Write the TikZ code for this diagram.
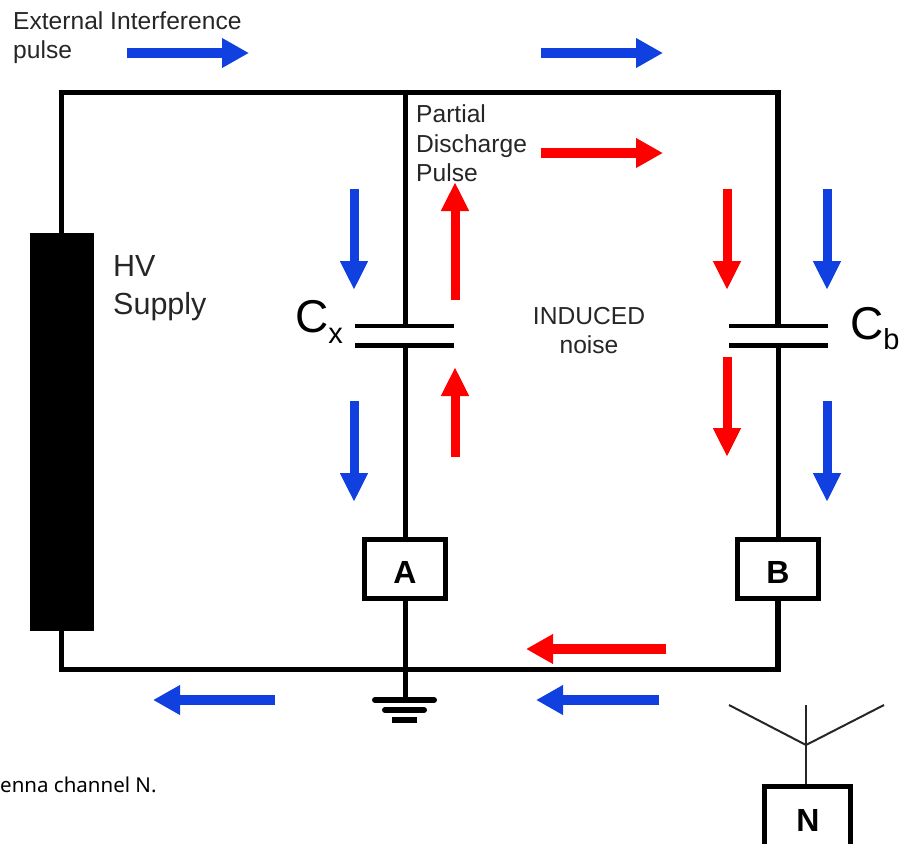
\documentclass[tikz,border=0pt]{standalone}
\usepackage{fontspec}
\setmainfont{Liberation Sans}
\newfontfamily\notefont{Noto Sans}
\usetikzlibrary{arrows.meta, positioning}
\definecolor{pulseBlue}{HTML}{1040E0}
\tikzstyle{wire}=[line width=5.5pt, line join=miter]
\tikzstyle{thinWire}=[line width=5pt]
\tikzstyle{plate}=[line width=4.5pt]
\tikzstyle{meter}=[draw, line width=5pt, fill=white, minimum width=81pt, minimum height=59pt, inner sep=0pt, text height=28pt, font=\fontsize{32}{32}\selectfont\bfseries]
\tikzstyle{label}=[anchor=base west, inner sep=0pt, font=\fontsize{24.6}{24.6}\selectfont, text=black!85]
\tikzstyle{pulse}=[line width=9pt, -{Triangle[width=26pt, length=29pt]}]
\tikzstyle{across}=[line width=10pt, -{Triangle[width=28pt, length=27pt]}]
\tikzstyle{blueP}=[pulse, pulseBlue]
\tikzstyle{redP}=[pulse, red]
\tikzstyle{blueA}=[across, pulseBlue]
\tikzstyle{redA}=[across, red]
\tikzstyle{aerial}=[line width=2pt, black!85]

\begin{document}
\begin{tikzpicture}[x=1pt, y=-1pt]
    \clip (0, 0) rectangle (907, 843);
    \useasboundingbox (0, 0) rectangle (907, 843);

    % frame
    \coordinate (tl) at (61.5, 92.5);
    \coordinate (tm) at (405, 92.5);
    \coordinate (tr) at (778, 92.5);
    \coordinate (bl) at (61.5, 669.5);
    \coordinate (bm) at (405, 669.5);
    \coordinate (br) at (778, 669.5);

    \node (hv)[draw, fill=black, minimum width=63pt, minimum height=397pt, inner sep=0pt] at (61.5, 431.5) {};
    \node (mA)[meter] at (405, 569) {A};
    \node (mB)[meter] at (778, 569) {B};
    \node (mN)[meter, minimum width=86pt, minimum height=84pt] at (807.5, 828.5) {};
    \node (mNtext)[inner sep=0pt, font=\fontsize{32}{32}\selectfont\bfseries] at (808, 820) {N};

    % capacitors
    \coordinate (cx1) at (405, 326);
    \coordinate (cx2) at (405, 345.5);
    \coordinate (cb1) at (778, 326);
    \coordinate (cb2) at (778, 345.5);
    \coordinate (cx1l) at (355, 326);
    \coordinate (cx1r) at (454, 326);
    \coordinate (cx2l) at (355, 345.5);
    \coordinate (cx2r) at (454, 345.5);
    \coordinate (cb1l) at (729, 326);
    \coordinate (cb1r) at (828, 326);
    \coordinate (cb2l) at (729, 345.5);
    \coordinate (cb2r) at (828, 345.5);
    \draw[plate] (cx1l) -- (cx1r);
    \draw[plate] (cx2l) -- (cx2r);
    \draw[plate] (cb1l) -- (cb1r);
    \draw[plate] (cb2l) -- (cb2r);

    \draw[wire] (hv.north -| tl) -- (tl) -- (tr) -- (cb1);
    \draw[wire] (hv.south -| bl) -- (bl) -- (br) -- (mB.south -| br);
    \draw[thinWire] (tm) -- (cx1);
    \draw[thinWire] (cx2) -- (mA.north);
    \draw[thinWire] (mA.south) -- (bm);
    \draw[thinWire] (cb2) -- (mB.north);

    % ground
    \coordinate (g1) at (405, 700);
    \coordinate (g1l) at (375, 700);
    \coordinate (g1r) at (434, 700);
    \coordinate (g2l) at (385, 710);
    \coordinate (g2r) at (424, 710);
    \coordinate (g3l) at (392, 720);
    \coordinate (g3r) at (417, 720);
    \draw[thinWire] (bm) -- (g1);
    \draw[line width=6pt, line cap=round] (g1l) -- (g1r);
    \draw[line width=6pt, line cap=round] (g2l) -- (g2r);
    \draw[line width=5.5pt] (g3l) -- (g3r);

    % antenna
    \coordinate (a0) at (806, 745);
    \coordinate (a1) at (729, 705);
    \coordinate (a2) at (806, 705);
    \coordinate (a3) at (884, 705);
    \draw[aerial] (a1) -- (a0);
    \draw[aerial] (a2) -- (a0);
    \draw[aerial] (a3) -- (a0);
    \draw[aerial] (a0) -- (a0 |- mN.north);

    % blue pulses
    \coordinate (p1s) at (127, 53);
    \coordinate (p1e) at (249, 53);
    \coordinate (p2s) at (541, 53);
    \coordinate (p2e) at (663, 53);
    \coordinate (p3s) at (354, 189);
    \coordinate (p3e) at (354, 290);
    \coordinate (p4s) at (354, 401);
    \coordinate (p4e) at (354, 502);
    \coordinate (p5s) at (827, 189);
    \coordinate (p5e) at (827, 290);
    \coordinate (p6s) at (827, 401);
    \coordinate (p6e) at (827, 502);
    \coordinate (p7s) at (275, 700);
    \coordinate (p7e) at (153, 700);
    \coordinate (p8s) at (659, 700);
    \coordinate (p8e) at (536, 700);
    \draw[blueA] (p1s) -- (p1e);
    \draw[blueA] (p2s) -- (p2e);
    \draw[blueP] (p3s) -- (p3e);
    \draw[blueP] (p4s) -- (p4e);
    \draw[blueP] (p5s) -- (p5e);
    \draw[blueP] (p6s) -- (p6e);
    \draw[blueA] (p7s) -- (p7e);
    \draw[blueA] (p8s) -- (p8e);

    % red pulses
    \coordinate (r1s) at (541, 153);
    \coordinate (r1e) at (663, 153);
    \coordinate (r2s) at (455, 300);
    \coordinate (r2e) at (455, 182);
    \coordinate (r3s) at (455, 457);
    \coordinate (r3e) at (455, 367);
    \coordinate (r4s) at (727, 189);
    \coordinate (r4e) at (727, 290);
    \coordinate (r5s) at (727, 357);
    \coordinate (r5e) at (727, 457);
    \coordinate (r6s) at (666, 649);
    \coordinate (r6e) at (526, 649);
    \draw[redA] (r1s) -- (r1e);
    \draw[redP] (r2s) -- (r2e);
    \draw[redP] (r3s) -- (r3e);
    \draw[redP] (r4s) -- (r4e);
    \draw[redP] (r5s) -- (r5e);
    \draw[redA] (r6s) -- (r6e);

    % labels
    \node (ext1)[label] at (13, 30) {External Interference};
    \node (ext2)[label] at (13, 59) {pulse};
    \node (pd1)[label] at (416, 122) {Partial};
    \node (pd2)[label] at (416, 152) {Discharge};
    \node (pd3)[label] at (416, 181) {Pulse};
    \node (hv1)[label, font=\fontsize{30.5}{30.5}\selectfont] at (113, 276) {HV};
    \node (hv2)[label, font=\fontsize{30.5}{30.5}\selectfont] at (113, 314) {Supply};
    \node (cx)[label, font=\fontsize{46}{46}\selectfont, text=black] at (295, 332) {C\raisebox{-11pt}{\fontsize{29}{29}\selectfont x}};
    \node (cb)[label, font=\fontsize{46}{46}\selectfont, text=black] at (850, 339.5) {C\raisebox{-9.5pt}{\fontsize{29}{29}\selectfont b}};
    \node (ind1)[label, anchor=base] at (589, 324) {INDUCED};
    \node (ind2)[label, anchor=base] at (589, 353) {noise};
    \node (note)[label, text=black, font=\notefont\fontsize{20.5}{20.5}\selectfont] at (0, 792) {enna channel N.};
\end{tikzpicture}
\end{document}
